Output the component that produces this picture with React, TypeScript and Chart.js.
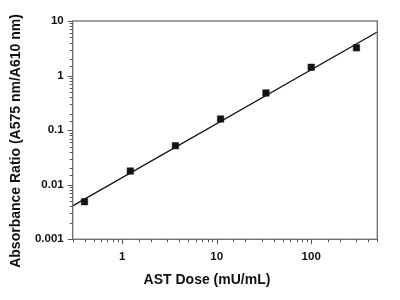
import React, { useEffect, useRef } from "react";
import { Chart, registerables } from "chart.js";

Chart.register(...registerables);

const doses = [0.4, 1.22, 3.66, 11.0, 33.2, 100, 301];
const ratios = [0.0049, 0.0178, 0.052, 0.16, 0.48, 1.42, 3.22];
const fitDoses = [0.3, 500];
const fitRatios = [0.0041, 6.3];
const xMajorLabels = [1, 10, 100];
const yMajorLabels = [0.001, 0.01, 0.1, 1, 10];
const xTitle = "AST Dose (mU/mL)";
const yTitle = "Absorbance Ratio (A575 nm/A610 nm)";

const FONT = "'Liberation Sans', Arial, sans-serif";

const isDecade = (v: number) => {
  const l = Math.log10(v);
  return Math.abs(l - Math.round(l)) < 1e-6;
};

const frameAndTicks = {
  id: "frameAndTicks",
  afterDraw(chart: any) {
    const { ctx, chartArea } = chart;
    const xs = chart.scales.x;
    const ys = chart.scales.y;
    ctx.save();
    ctx.strokeStyle = "#6b6b6b";
    ctx.lineWidth = 1.3;
    ctx.strokeRect(chartArea.left, chartArea.top, chartArea.right - chartArea.left, chartArea.bottom - chartArea.top);
    ctx.lineWidth = 1;
    ctx.strokeStyle = "#555";
    ctx.beginPath();
    xs.ticks.forEach((t: any) => {
      const px = Math.round(xs.getPixelForValue(t.value)) + 0.5;
      const len = isDecade(t.value) ? 5 : 3;
      ctx.moveTo(px, chartArea.bottom);
      ctx.lineTo(px, chartArea.bottom + len);
    });
    ys.ticks.forEach((t: any) => {
      const py = Math.round(ys.getPixelForValue(t.value)) + 0.5;
      const len = isDecade(t.value) ? 5 : 3;
      ctx.moveTo(chartArea.left, py);
      ctx.lineTo(chartArea.left - len, py);
    });
    ctx.stroke();

    // axis titles
    ctx.fillStyle = "#111";
    ctx.font = `bold 14px ${FONT}`;
    ctx.textAlign = "center";
    ctx.textBaseline = "middle";
    ctx.fillText(xTitle, 207, 280);
    ctx.translate(16.5, 141);
    ctx.rotate(-Math.PI / 2);
    ctx.fillText(yTitle, 0, 0);
    ctx.restore();
  },
};

export default function App() {
  const ref = useRef<HTMLCanvasElement>(null);
  useEffect(() => {
    document.body.style.margin = "0";
    const tickFont = { family: FONT, size: 11.5, weight: "bold" as const };
    const chart = new Chart(ref.current!, {
      type: "scatter",
      data: {
        datasets: [
          {
            type: "line",
            data: fitDoses.map((x, i) => ({ x, y: fitRatios[i] })),
            borderColor: "#111",
            borderWidth: 1.3,
            pointRadius: 0,
            fill: false,
          } as any,
          {
            data: doses.map((x, i) => ({ x, y: ratios[i] })),
            pointStyle: "rect",
            pointRadius: 4.6,
            backgroundColor: "#141414",
            borderColor: "#141414",
            borderWidth: 0.5,
          },
        ],
      },
      options: {
        animation: false,
        responsive: false,
        maintainAspectRatio: false,
        layout: { padding: { left: 0, top: 21, right: 22.7, bottom: 0 } },
        plugins: { legend: { display: false }, tooltip: { enabled: false } },
        scales: {
          x: {
            type: "logarithmic",
            min: 0.3,
            max: 500,
            border: { display: false },
            grid: { display: false, drawTicks: false },
            ticks: {
              autoSkip: false,
              maxRotation: 0,
              padding: 11,
              color: "#111",
              font: tickFont,
              callback: (v: any) => (xMajorLabels.includes(Number(v)) ? String(v) : ""),
            },
            afterFit: (s: any) => { s.height = 60.7; },
          },
          y: {
            type: "logarithmic",
            min: 0.001,
            max: 10,
            border: { display: false },
            grid: { display: false, drawTicks: false },
            ticks: {
              autoSkip: false,
              padding: 9,
              color: "#111",
              font: tickFont,
              callback: (v: any) => {
                const n = Number(v);
                return yMajorLabels.some((m) => Math.abs(m - n) / m < 1e-6) ? String(n) : "";
              },
            },
            afterFit: (s: any) => { s.width = 72.7; },
          },
        },
      },
      plugins: [frameAndTicks],
    });
    return () => chart.destroy();
  }, []);
  return (
    <div style={{ width: 400, height: 300 }}>
      <canvas ref={ref} width={400} height={300} style={{ display: "block" }} />
    </div>
  );
}
